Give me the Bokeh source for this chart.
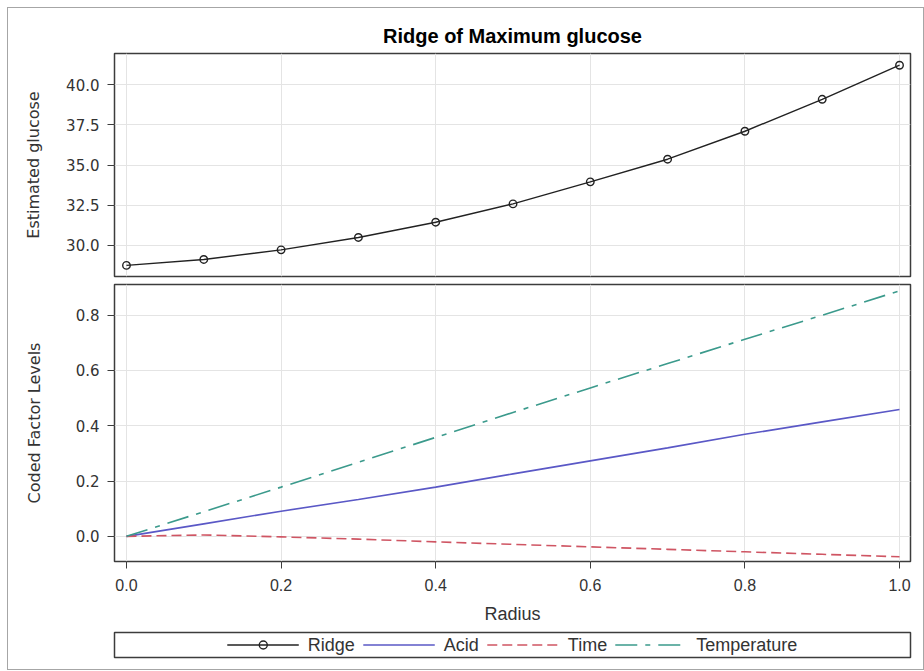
from bokeh.plotting import figure
from bokeh.layouts import column
from bokeh.models import Range1d, FixedTicker, Legend, LegendItem, ColumnDataSource, PrintfTickFormatter
from bokeh.embed import file_html
from bokeh.resources import INLINE

# ---- data ----
radius = [0.0, 0.1, 0.2, 0.3, 0.4, 0.5, 0.6, 0.7, 0.8, 0.9, 1.0]
ridge = [28.76, 29.13, 29.73, 30.50, 31.45, 32.59, 33.96, 35.37, 37.11, 39.10, 41.22]
acid = [0.0, 0.045, 0.091, 0.133, 0.178, 0.226, 0.273, 0.320, 0.369, 0.414, 0.459]
time = [0.0, 0.005, -0.002, -0.010, -0.020, -0.029, -0.038, -0.047, -0.056, -0.065, -0.074]
temperature = [0.0, 0.089, 0.178, 0.268, 0.358, 0.448, 0.537, 0.625, 0.713, 0.800, 0.888]

x_ticks = [0.0, 0.2, 0.4, 0.6, 0.8, 1.0]
top_y_ticks = [30.0, 32.5, 35.0, 37.5, 40.0]
bot_y_ticks = [0.0, 0.2, 0.4, 0.6, 0.8]

title_text = "Ridge of Maximum glucose"
top_ylabel = "Estimated glucose"
bot_ylabel = "Coded Factor Levels"
xlabel = "Radius"
legend_labels = ["Ridge", "Acid", "Time", "Temperature"]

# ---- styles ----
FRAME = "#3c3c3c"
GRID = "#e4e4e4"
C_RIDGE = "#222222"
C_ACID = "#5a58c6"
C_TIME = "#cf5563"
C_TEMP = "#3b9a8c"
YFONT = "DejaVu Sans"
XFONT = "Liberation Sans"

W = 915
ML, MR = 106, 13
x_rng = Range1d(-0.0155, 1.0142)


def style_common(p):
    p.outline_line_color = FRAME
    p.outline_line_width = 1.5
    p.background_fill_color = "white"
    p.border_fill_color = "white"
    p.min_border_left = ML
    p.min_border_right = MR


def style_yaxis(ax, label, standoff):
    ax.axis_label = label
    ax.axis_label_text_font = YFONT
    ax.axis_label_text_font_size = "16px"
    ax.axis_label_text_font_style = "normal"
    ax.axis_label_text_color = "#333333"
    ax.axis_label_standoff = standoff
    ax.major_label_text_font = YFONT
    ax.major_label_text_font_size = "15px"
    ax.major_label_text_color = "#333333"
    ax.major_tick_out = 7
    ax.major_tick_in = 0
    ax.minor_tick_out = 0
    ax.minor_tick_in = 0
    ax.major_tick_line_color = FRAME
    ax.axis_line_color = None
    ax.major_label_standoff = 8
    ax.formatter = PrintfTickFormatter(format="%.1f")


# ---- top panel ----
p1 = figure(width=W, height=272, x_range=x_rng, y_range=Range1d(28.07, 41.95),
            output_backend="svg", toolbar_location=None,
            x_axis_location=None, y_axis_location="left")
style_common(p1)
p1.min_border_top = 45
p1.min_border_bottom = 4
p1.title.text = title_text
p1.title.text_font = "Liberation Sans"
p1.title.text_font_size = "20px"
p1.title.text_font_style = "bold"
p1.title.align = "center"
p1.title.text_color = "#000000"
p1.title.standoff = 14
p1.yaxis.ticker = FixedTicker(ticks=top_y_ticks)
style_yaxis(p1.yaxis[0], top_ylabel, 20)
p1.xgrid.ticker = FixedTicker(ticks=x_ticks)
p1.xgrid.grid_line_color = GRID
p1.ygrid.grid_line_color = GRID
src = ColumnDataSource(dict(x=radius, ridge=ridge, acid=acid, time=time, temp=temperature))
p1.line("x", "ridge", source=src, line_color=C_RIDGE, line_width=1.4)
p1.scatter("x", "ridge", source=src, marker="circle", size=7.5, fill_color=None,
           line_color=C_RIDGE, line_width=1.4)

# ---- bottom panel ----
p2 = figure(width=W, height=346, x_range=x_rng, y_range=Range1d(-0.091, 0.911),
            output_backend="svg", toolbar_location=None)
style_common(p2)
p2.min_border_top = 4
p2.min_border_bottom = 63
p2.yaxis.ticker = FixedTicker(ticks=bot_y_ticks)
style_yaxis(p2.yaxis[0], bot_ylabel, 29)
p2.xaxis.ticker = FixedTicker(ticks=x_ticks)
xa = p2.xaxis[0]
xa.formatter = PrintfTickFormatter(format="%.1f")
xa.axis_label = xlabel
xa.axis_label_text_font = XFONT
xa.axis_label_text_font_size = "18px"
xa.axis_label_text_font_style = "normal"
xa.axis_label_text_color = "#333333"
xa.axis_label_standoff = 10
xa.major_label_text_font = XFONT
xa.major_label_text_font_size = "16px"
xa.major_label_text_color = "#333333"
xa.major_tick_out = 7
xa.major_tick_in = 0
xa.minor_tick_out = 0
xa.minor_tick_in = 0
xa.major_tick_line_color = FRAME
xa.axis_line_color = None
xa.major_label_standoff = 10
p2.xgrid.grid_line_color = GRID
p2.ygrid.grid_line_color = GRID
p2.line("x", "acid", source=src, line_color=C_ACID, line_width=1.6)
p2.line("x", "time", source=src, line_color=C_TIME, line_width=1.6, line_dash="10 5")
p2.line("x", "temp", source=src, line_color=C_TEMP, line_width=1.6, line_dash="22 8 5 8")

# ---- legend panel ----
p3 = figure(width=W, height=43, x_range=Range1d(0, 1), y_range=Range1d(0, 1),
            output_backend="svg", toolbar_location=None,
            x_axis_location=None, y_axis_location=None)
style_common(p3)
p3.min_border_top = 6
p3.min_border_bottom = 12
p3.xgrid.visible = False
p3.ygrid.visible = False
# legend-only renderers: points placed outside the visible range
dummy = ColumnDataSource(dict(x=[-5.0, -4.0], y=[-5.0, -4.0]))
r_l = p3.line("x", "y", source=dummy, line_color=C_RIDGE, line_width=1.4)
r_m = p3.scatter("x", "y", source=dummy, marker="circle", size=7.5, fill_color=None,
                 line_color=C_RIDGE, line_width=1.4)
r_a = p3.line("x", "y", source=dummy, line_color=C_ACID, line_width=1.6)
r_t = p3.line("x", "y", source=dummy, line_color=C_TIME, line_width=1.6, line_dash="10 5")
r_p = p3.line("x", "y", source=dummy, line_color=C_TEMP, line_width=1.6, line_dash="22 8 5 8")
legend = Legend(items=[
    LegendItem(label=legend_labels[0], renderers=[r_l, r_m], index=0),
    LegendItem(label=legend_labels[1], renderers=[r_a], index=0),
    LegendItem(label=legend_labels[2], renderers=[r_t], index=0),
    LegendItem(label=legend_labels[3], renderers=[r_p], index=0),
], orientation="horizontal", location="center", glyph_width=72, glyph_height=20,
    label_standoff=9, spacing=8, padding=0, margin=0, border_line_alpha=0,
    background_fill_alpha=0, label_text_font=XFONT, label_text_font_size="18px",
    label_text_color="#333333", label_height=20)
p3.add_layout(legend, "center")

layout = column(p1, p2, p3, spacing=0, margin=(7, 0, 0, 7),
                styles={"border": "1px solid #a6a6a6"})

open("out.html", "w").write(file_html(layout, INLINE))
